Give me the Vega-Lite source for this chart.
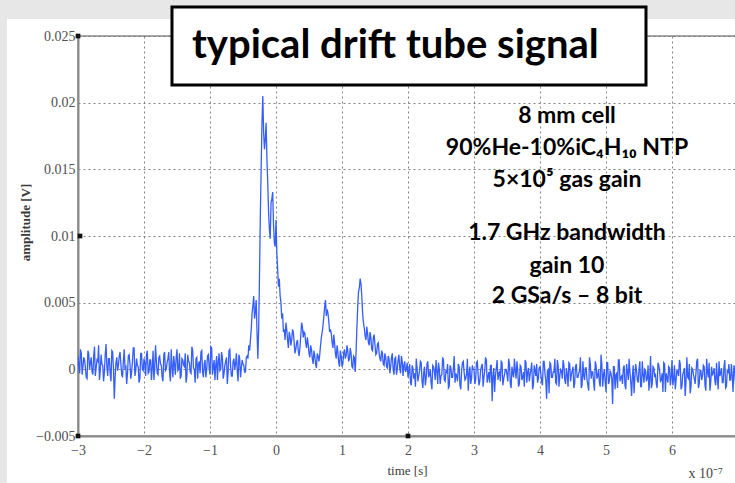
{
  "$schema": "https://vega.github.io/schema/vega-lite/v6.json",
  "width": 660,
  "height": 400,
  "autosize": "none",
  "padding": {"left": 78, "top": 36, "right": 0, "bottom": 47},
  "background": "white",
  "config": {
    "view": {"stroke": "#8a8a8a", "strokeWidth": 1.5},
    "axis": {
      "labelFont": "Liberation Serif",
      "labelFontSize": 14,
      "labelColor": "#505050",
      "titleFont": "Liberation Serif",
      "titleFontSize": 13,
      "titleFontWeight": "bold",
      "titleColor": "#3a3a3a",
      "domainColor": "#8a8a8a",
      "domainWidth": 2,
      "gridColor": "#777777",
      "gridDash": [2, 3],
      "gridWidth": 1,
      "gridOpacity": 0.9,
      "ticks": false,
      "labelFlush": false,
      "labelOverlap": false
    }
  },
  "datasets": {
    "sig": [
      {"t":-3,"a":0.001},{"t":-2.975,"a":-0.0003},{"t":-2.95,"a":0.0012},{"t":-2.925,"a":0.0002},{"t":-2.9,"a":0.0007},
      {"t":-2.875,"a":-0.0006},{"t":-2.85,"a":0.0014},{"t":-2.825,"a":0},{"t":-2.8,"a":0.0009},{"t":-2.775,"a":-0.0004},
      {"t":-2.75,"a":0.0017},{"t":-2.725,"a":0.0001},{"t":-2.7,"a":0.0006},{"t":-2.675,"a":-0.0008},{"t":-2.65,"a":0.0011},
      {"t":-2.625,"a":0.0003},{"t":-2.6,"a":-0.0002},{"t":-2.575,"a":0.0019},{"t":-2.55,"a":-0.0005},{"t":-2.525,"a":0.0008},
      {"t":-2.5,"a":-0.0009},{"t":-2.475,"a":0.0013},{"t":-2.45,"a":-0.0022},{"t":-2.425,"a":0.0005},{"t":-2.4,"a":-0.0001},
      {"t":-2.375,"a":0.001},{"t":-2.35,"a":0.0004},{"t":-2.325,"a":-0.0006},{"t":-2.3,"a":0.0015},{"t":-2.275,"a":0.0002},
      {"t":-2.25,"a":-0.0003},{"t":-2.225,"a":0.0011},{"t":-2.2,"a":-0.0007},{"t":-2.175,"a":0.0006},{"t":-2.15,"a":0.0016},
      {"t":-2.125,"a":-0.0001},{"t":-2.1,"a":0.0003},{"t":-2.075,"a":-0.001},{"t":-2.05,"a":0.0012},{"t":-2.025,"a":0},
      {"t":-2,"a":0.0008},{"t":-1.975,"a":-0.0005},{"t":-1.95,"a":0.0014},{"t":-1.925,"a":-0.0002},{"t":-1.9,"a":0.0007},
      {"t":-1.875,"a":0.0001},{"t":-1.85,"a":-0.0008},{"t":-1.825,"a":0.0018},{"t":-1.8,"a":-0.0003},{"t":-1.775,"a":0.0009},
      {"t":-1.75,"a":0.0004},{"t":-1.725,"a":-0.0006},{"t":-1.7,"a":0.0011},{"t":-1.675,"a":-0.0001},{"t":-1.65,"a":0.0005},
      {"t":-1.625,"a":0.0013},{"t":-1.6,"a":-0.0009},{"t":-1.575,"a":0.0002},{"t":-1.55,"a":0.001},{"t":-1.525,"a":-0.0004},
      {"t":-1.5,"a":0.0015},{"t":-1.475,"a":0},{"t":-1.45,"a":-0.0007},{"t":-1.425,"a":0.0008},{"t":-1.4,"a":0.0003},
      {"t":-1.375,"a":0.0012},{"t":-1.35,"a":-0.0005},{"t":-1.325,"a":0.0006},{"t":-1.3,"a":-0.0002},{"t":-1.275,"a":0.0017},
      {"t":-1.25,"a":0.0001},{"t":-1.225,"a":-0.001},{"t":-1.2,"a":0.0009},{"t":-1.175,"a":0.0004},{"t":-1.15,"a":-0.0003},
      {"t":-1.125,"a":0.0014},{"t":-1.1,"a":-0.0006},{"t":-1.075,"a":0.0007},{"t":-1.05,"a":0},{"t":-1.025,"a":0.0011},
      {"t":-1,"a":-0.0004},{"t":-0.975,"a":0.0016},{"t":-0.95,"a":0.0002},{"t":-0.925,"a":-0.0008},{"t":-0.9,"a":0.001},
      {"t":-0.875,"a":0.0005},{"t":-0.85,"a":-0.0001},{"t":-0.825,"a":0.0013},{"t":-0.8,"a":-0.0007},{"t":-0.775,"a":0.0003},
      {"t":-0.75,"a":0.0009},{"t":-0.725,"a":-0.0002},{"t":-0.7,"a":0.0015},{"t":-0.675,"a":-0.0005},{"t":-0.65,"a":0.0006},
      {"t":-0.625,"a":0},{"t":-0.6,"a":0.0012},{"t":-0.575,"a":-0.0009},{"t":-0.55,"a":0.0008},{"t":-0.525,"a":0.0001},
      {"t":-0.5,"a":0.0004},{"t":-0.475,"a":-0.0002},{"t":-0.45,"a":0.0009},
      {"t":-0.425,"a":0.0008},{"t":-0.4,"a":0.0014},{"t":-0.375,"a":0.003},{"t":-0.35,"a":0.0048},{"t":-0.325,"a":0.0038},
      {"t":-0.3,"a":0.0052},{"t":-0.275,"a":0.0008},{"t":-0.25,"a":0.007},{"t":-0.225,"a":0.015},{"t":-0.2,"a":0.0205},
      {"t":-0.175,"a":0.0165},{"t":-0.15,"a":0.0185},{"t":-0.125,"a":0.014},{"t":-0.1,"a":0.0105},{"t":-0.075,"a":0.0125},
      {"t":-0.05,"a":0.0133},{"t":-0.025,"a":0.0095},{"t":0,"a":0.0112},{"t":0.025,"a":0.0075},{"t":0.05,"a":0.0068},
      {"t":0.075,"a":0.005},{"t":0.1,"a":0.0042},{"t":0.125,"a":0.003},{"t":0.15,"a":0.0035},{"t":0.175,"a":0.0022},
      {"t":0.2,"a":0.0028},{"t":0.225,"a":0.0018},{"t":0.25,"a":0.003},{"t":0.275,"a":0.002},{"t":0.3,"a":0.0015},
      {"t":0.325,"a":0.0022},{"t":0.35,"a":0.001},{"t":0.375,"a":0.0025},{"t":0.4,"a":0.0032},{"t":0.425,"a":0.0028},
      {"t":0.45,"a":0.002},{"t":0.475,"a":0.0024},{"t":0.5,"a":0.0012},{"t":0.525,"a":0.0018},{"t":0.55,"a":0.0008},
      {"t":0.575,"a":0.0014},{"t":0.6,"a":0.0004},{"t":0.625,"a":0.0012},{"t":0.65,"a":0.0006},{"t":0.675,"a":0.0018},
      {"t":0.7,"a":0.0028},{"t":0.725,"a":0.004},{"t":0.75,"a":0.0052},{"t":0.775,"a":0.0045},{"t":0.8,"a":0.0036},
      {"t":0.825,"a":0.003},{"t":0.85,"a":0.002},{"t":0.875,"a":0.0026},{"t":0.9,"a":0.0012},{"t":0.925,"a":0.0018},
      {"t":0.95,"a":0.0005},{"t":0.975,"a":0.0014},{"t":1,"a":0.0002},{"t":1.025,"a":0.0012},{"t":1.05,"a":0.0008},
      {"t":1.075,"a":0.0018},{"t":1.1,"a":0.0006},{"t":1.125,"a":0.0016},{"t":1.15,"a":0.0002},{"t":1.175,"a":0.001},
      {"t":1.2,"a":-0.0002},{"t":1.225,"a":0.003},{"t":1.25,"a":0.0058},{"t":1.275,"a":0.0068},{"t":1.3,"a":0.0055},
      {"t":1.325,"a":0.0035},{"t":1.35,"a":0.0025},{"t":1.375,"a":0.0032},{"t":1.4,"a":0.002},{"t":1.425,"a":0.0028},
      {"t":1.45,"a":0.0015},{"t":1.475,"a":0.0024},{"t":1.5,"a":0.0018},{"t":1.525,"a":0.0012},{"t":1.55,"a":0.002},
      {"t":1.575,"a":0.0008},{"t":1.6,"a":0.0014},{"t":1.625,"a":0.0004},{"t":1.65,"a":0.0012},{"t":1.675,"a":0.0002},
      {"t":1.7,"a":0.001},{"t":1.725,"a":-0.0003},{"t":1.75,"a":0.0009},{"t":1.775,"a":0},{"t":1.8,"a":0.0008},
      {"t":1.825,"a":-0.0004},{"t":1.85,"a":0.0007},{"t":1.875,"a":0.0001},{"t":1.9,"a":0.001},{"t":1.925,"a":-0.0005},
      {"t":1.95,"a":0.0006},{"t":1.975,"a":0},
      {"t":2,"a":-0.0006},{"t":2.025,"a":0.0004},{"t":2.05,"a":-0.0012},{"t":2.075,"a":0.0001},{"t":2.1,"a":-0.0003},
      {"t":2.125,"a":0.0008},{"t":2.15,"a":-0.0009},{"t":2.175,"a":-0.0001},{"t":2.2,"a":0.0005},{"t":2.225,"a":-0.0014},
      {"t":2.25,"a":0.0002},{"t":2.275,"a":-0.0007},{"t":2.3,"a":0.0006},{"t":2.325,"a":-0.0004},{"t":2.35,"a":-0.001},
      {"t":2.375,"a":0.0003},{"t":2.4,"a":-0.0002},{"t":2.425,"a":0.0007},{"t":2.45,"a":-0.0011},{"t":2.475,"a":0},
      {"t":2.5,"a":-0.0005},{"t":2.525,"a":0.0009},{"t":2.55,"a":-0.0008},{"t":2.575,"a":-0.0001},{"t":2.6,"a":0.0004},
      {"t":2.625,"a":-0.0013},{"t":2.65,"a":0.0001},{"t":2.675,"a":-0.0006},{"t":2.7,"a":0.001},{"t":2.725,"a":-0.0003},
      {"t":2.75,"a":-0.0009},{"t":2.775,"a":0.0002},{"t":2.8,"a":-0.0015},{"t":2.825,"a":0.0005},{"t":2.85,"a":-0.0002},
      {"t":2.875,"a":-0.0007},{"t":2.9,"a":0.0008},{"t":2.925,"a":-0.0004},{"t":2.95,"a":-0.0011},{"t":2.975,"a":0.0003},
      {"t":3,"a":0},{"t":3.025,"a":-0.0008},{"t":3.05,"a":0.0006},{"t":3.075,"a":-0.0012},{"t":3.1,"a":-0.0001},
      {"t":3.125,"a":0.0004},{"t":3.15,"a":-0.0006},{"t":3.175,"a":0.0009},{"t":3.2,"a":-0.001},{"t":3.225,"a":-0.0002},
      {"t":3.25,"a":0.0003},{"t":3.275,"a":-0.0024},{"t":3.3,"a":0.0001},{"t":3.325,"a":-0.0005},{"t":3.35,"a":0.0007},
      {"t":3.375,"a":-0.0003},{"t":3.4,"a":-0.0009},{"t":3.425,"a":0.0005},{"t":3.45,"a":-0.0007},{"t":3.475,"a":0},
      {"t":3.5,"a":-0.0004},{"t":3.525,"a":0.0008},{"t":3.55,"a":-0.0011},{"t":3.575,"a":0.0002},{"t":3.6,"a":-0.0006},
      {"t":3.625,"a":-0.0001},{"t":3.65,"a":0.0006},{"t":3.675,"a":-0.0013},{"t":3.7,"a":0.0003},{"t":3.725,"a":-0.0008},
      {"t":3.75,"a":-0.0002},{"t":3.775,"a":0.0007},{"t":3.8,"a":-0.001},{"t":3.825,"a":0.0001},{"t":3.85,"a":-0.0004},
      {"t":3.875,"a":0.0005},{"t":3.9,"a":-0.0012},{"t":3.925,"a":-0.0001},{"t":3.95,"a":0.0004},{"t":3.975,"a":-0.0007},
      {"t":4,"a":0.0002},{"t":4.025,"a":-0.0009},{"t":4.05,"a":0.0006},{"t":4.075,"a":-0.0003},{"t":4.1,"a":-0.0022},
      {"t":4.125,"a":0},{"t":4.15,"a":0.0005},{"t":4.175,"a":-0.0006},{"t":4.2,"a":-0.0002},{"t":4.225,"a":0.0008},
      {"t":4.25,"a":-0.0011},{"t":4.275,"a":0.0003},{"t":4.3,"a":-0.0005},{"t":4.325,"a":-0.0001},{"t":4.35,"a":0.0007},
      {"t":4.375,"a":-0.0008},{"t":4.4,"a":0.0001},{"t":4.425,"a":-0.0013},{"t":4.45,"a":0.0004},{"t":4.475,"a":-0.0004},
      {"t":4.5,"a":0.0002},{"t":4.525,"a":-0.0011},{"t":4.55,"a":0.0004},{"t":4.575,"a":-0.0006},{"t":4.6,"a":-0.0001},
      {"t":4.625,"a":-0.0014},{"t":4.65,"a":0.0006},{"t":4.675,"a":-0.0008},{"t":4.7,"a":0.0001},{"t":4.725,"a":-0.0012},
      {"t":4.75,"a":0.0009},{"t":4.775,"a":-0.0007},{"t":4.8,"a":-0.0002},{"t":4.825,"a":-0.0016},{"t":4.85,"a":0.0003},
      {"t":4.875,"a":-0.0005},{"t":4.9,"a":-0.001},{"t":4.925,"a":0.0011},{"t":4.95,"a":-0.0013},{"t":4.975,"a":0},
      {"t":5,"a":-0.0017},{"t":5.025,"a":0.0005},{"t":5.05,"a":-0.0009},{"t":5.075,"a":-0.0003},{"t":5.1,"a":-0.0026},
      {"t":5.125,"a":0.0002},{"t":5.15,"a":-0.0004},{"t":5.175,"a":-0.0014},{"t":5.2,"a":0.0007},{"t":5.225,"a":-0.0006},
      {"t":5.25,"a":-0.0011},{"t":5.275,"a":0.0003},{"t":5.3,"a":-0.0015},{"t":5.325,"a":-0.0002},{"t":5.35,"a":0.0008},
      {"t":5.375,"a":-0.0009},{"t":5.4,"a":-0.0005},{"t":5.425,"a":-0.0018},{"t":5.45,"a":0.0004},{"t":5.475,"a":-0.0008},
      {"t":5.5,"a":0},{"t":5.525,"a":-0.0013},{"t":5.55,"a":0.0006},{"t":5.575,"a":-0.001},{"t":5.6,"a":-0.0001},
      {"t":5.625,"a":-0.0007},{"t":5.65,"a":-0.0016},{"t":5.675,"a":0.001},{"t":5.7,"a":-0.0011},{"t":5.725,"a":0.0001},
      {"t":5.75,"a":-0.0004},{"t":5.775,"a":-0.0014},{"t":5.8,"a":0.0003},{"t":5.825,"a":-0.0009},{"t":5.85,"a":-0.0003},
      {"t":5.875,"a":0.0005},{"t":5.9,"a":-0.0017},{"t":5.925,"a":-0.0006},{"t":5.95,"a":0.0002},{"t":5.975,"a":-0.0012},
      {"t":6,"a":0.0007},{"t":6.025,"a":-0.0008},{"t":6.05,"a":-0.0015},{"t":6.075,"a":0},{"t":6.1,"a":-0.0005},
      {"t":6.125,"a":0.0004},{"t":6.15,"a":-0.0013},{"t":6.175,"a":-0.0002},{"t":6.2,"a":-0.002},{"t":6.225,"a":0.0009},
      {"t":6.25,"a":-0.0007},{"t":6.275,"a":-0.0018},{"t":6.3,"a":0.0001},{"t":6.325,"a":-0.0004},{"t":6.35,"a":-0.0011},
      {"t":6.375,"a":0.0006},{"t":6.4,"a":-0.0014},{"t":6.425,"a":-0.0001},{"t":6.45,"a":-0.0008},{"t":6.475,"a":0.0003},
      {"t":6.5,"a":-0.0012},{"t":6.525,"a":0.0008},{"t":6.55,"a":-0.0006},{"t":6.575,"a":-0.0016},{"t":6.6,"a":0.0002},
      {"t":6.625,"a":-0.0003},{"t":6.65,"a":-0.0009},{"t":6.675,"a":0.0005},{"t":6.7,"a":-0.0015},{"t":6.725,"a":-0.0005},
      {"t":6.75,"a":0.0001},{"t":6.775,"a":-0.001},{"t":6.8,"a":0.0007},{"t":6.825,"a":-0.0013},{"t":6.85,"a":-0.0002},
      {"t":6.875,"a":-0.0008},{"t":6.9,"a":0.0004},{"t":6.925,"a":-0.0017},{"t":6.95,"a":0},{"t":6.975,"a":-0.0007},
      {"t":7,"a":-0.0003},

      {"t":-2.9875,"a":0.0003},{"t":-2.9625,"a":0.0015},{"t":-2.9375,"a":-0.0004},{"t":-2.9125,"a":0.0009},{"t":-2.8875,"a":0.0001},
      {"t":-2.8625,"a":-0.0007},{"t":-2.8375,"a":0.0012},{"t":-2.8125,"a":0.0005},{"t":-2.7875,"a":-0.0002},{"t":-2.7625,"a":0.001},
      {"t":-2.7375,"a":-0.0005},{"t":-2.7125,"a":0.0007},{"t":-2.6875,"a":0.0018},{"t":-2.6625,"a":-0.0001},{"t":-2.6375,"a":0.0004},
      {"t":-2.6125,"a":-0.0009},{"t":-2.5875,"a":0.0011},{"t":-2.5625,"a":0.0002},{"t":-2.5375,"a":0.0008},{"t":-2.5125,"a":-0.0003},
      {"t":-2.4875,"a":0.0014},{"t":-2.4625,"a":0},{"t":-2.4375,"a":-0.0006},{"t":-2.4125,"a":0.0009},{"t":-2.3875,"a":0.0003},
      {"t":-2.3625,"a":0.0013},{"t":-2.3375,"a":-0.0004},{"t":-2.3125,"a":0.0006},{"t":-2.2875,"a":0.0001},{"t":-2.2625,"a":-0.0011},
      {"t":-2.2375,"a":0.001},{"t":-2.2125,"a":0.0004},{"t":-2.1875,"a":-0.0002},{"t":-2.1625,"a":0.0016},{"t":-2.1375,"a":-0.0005},
      {"t":-2.1125,"a":0.0008},{"t":-2.0875,"a":0.0002},{"t":-2.0625,"a":-0.0007},{"t":-2.0375,"a":0.0012},{"t":-2.0125,"a":-0.0001},
      {"t":-1.9875,"a":0.0005},{"t":-1.9625,"a":0.0011},{"t":-1.9375,"a":-0.0003},{"t":-1.9125,"a":0.0007},{"t":-1.8875,"a":-0.0008},
      {"t":-1.8625,"a":0.0014},{"t":-1.8375,"a":0.0001},{"t":-1.8125,"a":0.0006},{"t":-1.7875,"a":-0.0004},{"t":-1.7625,"a":0.001},
      {"t":-1.7375,"a":0.0003},{"t":-1.7125,"a":-0.0009},{"t":-1.6875,"a":0.0013},{"t":-1.6625,"a":0},{"t":-1.6375,"a":0.0008},
      {"t":-1.6125,"a":-0.0002},{"t":-1.5875,"a":0.0015},{"t":-1.5625,"a":-0.0006},{"t":-1.5375,"a":0.0004},{"t":-1.5125,"a":0.0009},
      {"t":-1.4875,"a":-0.0001},{"t":-1.4625,"a":0.0012},{"t":-1.4375,"a":-0.0005},{"t":-1.4125,"a":0.0007},{"t":-1.3875,"a":0.0002},
      {"t":-1.3625,"a":-0.001},{"t":-1.3375,"a":0.0011},{"t":-1.3125,"a":0.0005},{"t":-1.2875,"a":-0.0003},{"t":-1.2625,"a":0.0014},
      {"t":-1.2375,"a":0},{"t":-1.2125,"a":0.0008},{"t":-1.1875,"a":-0.0007},{"t":-1.1625,"a":0.0006},{"t":-1.1375,"a":0.0013},
      {"t":-1.1125,"a":-0.0002},{"t":-1.0875,"a":0.0004},{"t":-1.0625,"a":-0.0006},{"t":-1.0375,"a":0.001},{"t":-1.0125,"a":0.0001},
      {"t":-0.9875,"a":0.0017},{"t":-0.9625,"a":-0.0004},{"t":-0.9375,"a":0.0007},{"t":-0.9125,"a":0.0003},{"t":-0.8875,"a":-0.0008},
      {"t":-0.8625,"a":0.0012},{"t":-0.8375,"a":0},{"t":-0.8125,"a":0.0009},{"t":-0.7875,"a":-0.0003},{"t":-0.7625,"a":0.0006},
      {"t":-0.7375,"a":-0.0011},{"t":-0.7125,"a":0.0014},{"t":-0.6875,"a":0.0002},{"t":-0.6625,"a":-0.0005},{"t":-0.6375,"a":0.0008},
      {"t":-0.6125,"a":0.0004},{"t":-0.5875,"a":-0.0001},{"t":-0.5625,"a":0.0011},{"t":-0.5375,"a":-0.0006},{"t":-0.5125,"a":0.0007},
      {"t":-0.4875,"a":0.0003},{"t":-0.4625,"a":-0.0002},{"t":-0.4375,"a":0.001},
      {"t":-0.4125,"a":0.0018},{"t":-0.3875,"a":0.0022},{"t":-0.3625,"a":0.0042},{"t":-0.3375,"a":0.0055},{"t":-0.3125,"a":0.0043},
      {"t":-0.2875,"a":0.0028},{"t":-0.2625,"a":0.003},{"t":-0.2375,"a":0.0115},{"t":-0.2125,"a":0.0185},{"t":-0.1875,"a":0.0178},
      {"t":-0.1625,"a":0.0172},{"t":-0.1375,"a":0.0158},{"t":-0.1125,"a":0.0118},{"t":-0.0875,"a":0.0098},{"t":-0.0625,"a":0.0128},
      {"t":-0.0375,"a":0.0108},{"t":-0.0125,"a":0.0092},{"t":0.0125,"a":0.0088},{"t":0.0375,"a":0.0062},{"t":0.0625,"a":0.0055},
      {"t":0.0875,"a":0.0038},{"t":0.1125,"a":0.0028},{"t":0.1375,"a":0.0022},{"t":0.1625,"a":0.003},{"t":0.1875,"a":0.0016},
      {"t":0.2125,"a":0.0025},{"t":0.2375,"a":0.0022},{"t":0.2625,"a":0.0028},{"t":0.2875,"a":0.0012},{"t":0.3125,"a":0.002},
      {"t":0.3375,"a":0.0014},{"t":0.3625,"a":0.0016},{"t":0.3875,"a":0.0035},{"t":0.4125,"a":0.0024},{"t":0.4375,"a":0.0027},
      {"t":0.4625,"a":0.0016},{"t":0.4875,"a":0.0019},{"t":0.5125,"a":0.0009},{"t":0.5375,"a":0.0015},{"t":0.5625,"a":0.0004},
      {"t":0.5875,"a":0.001},{"t":0.6125,"a":0.0001},{"t":0.6375,"a":0.001},{"t":0.6625,"a":0.0011},{"t":0.6875,"a":0.0024},
      {"t":0.7125,"a":0.0033},{"t":0.7375,"a":0.0047},{"t":0.7625,"a":0.004},{"t":0.7875,"a":0.0042},{"t":0.8125,"a":0.0028},
      {"t":0.8375,"a":0.0027},{"t":0.8625,"a":0.0016},{"t":0.8875,"a":0.002},{"t":0.9125,"a":0.0008},{"t":0.9375,"a":0.0013},
      {"t":0.9625,"a":0.0002},{"t":0.9875,"a":0.001},{"t":1.0125,"a":0.0004},{"t":1.0375,"a":0.0015},{"t":1.0625,"a":0.001},
      {"t":1.0875,"a":0.0014},{"t":1.1125,"a":0.0008},{"t":1.1375,"a":0.0012},{"t":1.1625,"a":0.0001},{"t":1.1875,"a":0.0009},
      {"t":1.2125,"a":0.0012},{"t":1.2375,"a":0.0046},{"t":1.2625,"a":0.0061},{"t":1.2875,"a":0.0064},{"t":1.3125,"a":0.0042},
      {"t":1.3375,"a":0.0031},{"t":1.3625,"a":0.0022},{"t":1.3875,"a":0.0027},{"t":1.4125,"a":0.0018},{"t":1.4375,"a":0.0024},
      {"t":1.4625,"a":0.0014},{"t":1.4875,"a":0.0026},{"t":1.5125,"a":0.0011},{"t":1.5375,"a":0.0019},{"t":1.5625,"a":0.0012},
      {"t":1.5875,"a":0.0006},{"t":1.6125,"a":0.0012},{"t":1.6375,"a":0.0003},{"t":1.6625,"a":0.0009},{"t":1.6875,"a":0.0001},
      {"t":1.7125,"a":0.0008},{"t":1.7375,"a":0.0002},{"t":1.7625,"a":0.0012},{"t":1.7875,"a":-0.0004},{"t":1.8125,"a":0.0009},
      {"t":1.8375,"a":0},{"t":1.8625,"a":0.0011},{"t":1.8875,"a":-0.0003},{"t":1.9125,"a":0.0006},{"t":1.9375,"a":0.0003},
      {"t":1.9625,"a":-0.0002},{"t":1.9875,"a":0.0005},
      {"t":2.0125,"a":-0.0002},{"t":2.0375,"a":-0.001},{"t":2.0625,"a":0.0003},{"t":2.0875,"a":-0.0007},{"t":2.1125,"a":-0.0013},
      {"t":2.1375,"a":0.0001},{"t":2.1625,"a":-0.0005},{"t":2.1875,"a":0.0006},{"t":2.2125,"a":-0.0009},{"t":2.2375,"a":-0.0003},
      {"t":2.2625,"a":-0.0012},{"t":2.2875,"a":0.0004},{"t":2.3125,"a":-0.0006},{"t":2.3375,"a":0},{"t":2.3625,"a":-0.0015},
      {"t":2.3875,"a":0.0002},{"t":2.4125,"a":-0.0008},{"t":2.4375,"a":-0.0001},{"t":2.4625,"a":0.0005},{"t":2.4875,"a":-0.0011},
      {"t":2.5125,"a":-0.0004},{"t":2.5375,"a":0.0007},{"t":2.5625,"a":-0.0009},{"t":2.5875,"a":-0.0002},{"t":2.6125,"a":-0.0014},
      {"t":2.6375,"a":0.0003},{"t":2.6625,"a":-0.0006},{"t":2.6875,"a":0.0001},{"t":2.7125,"a":-0.001},{"t":2.7375,"a":-0.0005},
      {"t":2.7625,"a":0.0004},{"t":2.7875,"a":-0.0012},{"t":2.8125,"a":-0.0001},{"t":2.8375,"a":0.0006},{"t":2.8625,"a":-0.0008},
      {"t":2.8875,"a":-0.0003},{"t":2.9125,"a":-0.0016},{"t":2.9375,"a":0.0002},{"t":2.9625,"a":-0.0007},{"t":2.9875,"a":0},
      {"t":3.0125,"a":-0.0011},{"t":3.0375,"a":0.0005},{"t":3.0625,"a":-0.0004},{"t":3.0875,"a":-0.0009},{"t":3.1125,"a":0.0002},
      {"t":3.1375,"a":-0.0013},{"t":3.1625,"a":-0.0001},{"t":3.1875,"a":0.0007},{"t":3.2125,"a":-0.0006},{"t":3.2375,"a":-0.001},
      {"t":3.2625,"a":0.0003},{"t":3.2875,"a":-0.0005},{"t":3.3125,"a":-0.0017},{"t":3.3375,"a":0.0001},{"t":3.3625,"a":-0.0008},
      {"t":3.3875,"a":-0.0002},{"t":3.4125,"a":0.0006},{"t":3.4375,"a":-0.0012},{"t":3.4625,"a":-0.0004},{"t":3.4875,"a":0},
      {"t":3.5125,"a":-0.0009},{"t":3.5375,"a":0.0004},{"t":3.5625,"a":-0.0014},{"t":3.5875,"a":-0.0003},{"t":3.6125,"a":0.0008},
      {"t":3.6375,"a":-0.0007},{"t":3.6625,"a":-0.0001},{"t":3.6875,"a":-0.0011},{"t":3.7125,"a":0.0002},{"t":3.7375,"a":-0.0006},
      {"t":3.7625,"a":-0.0013},{"t":3.7875,"a":0.0005},{"t":3.8125,"a":-0.0002},{"t":3.8375,"a":-0.0009},{"t":3.8625,"a":0},
      {"t":3.8875,"a":-0.0015},{"t":3.9125,"a":0.0003},{"t":3.9375,"a":-0.0005},{"t":3.9625,"a":-0.001},{"t":3.9875,"a":0.0001},
      {"t":4.0125,"a":-0.0003},{"t":4.0375,"a":-0.0012},{"t":4.0625,"a":0.0006},{"t":4.0875,"a":-0.0008},{"t":4.1125,"a":-0.0001},
      {"t":4.1375,"a":-0.0018},{"t":4.1625,"a":0.0004},{"t":4.1875,"a":-0.0006},{"t":4.2125,"a":-0.0002},{"t":4.2375,"a":-0.001},
      {"t":4.2625,"a":0.0007},{"t":4.2875,"a":-0.0013},{"t":4.3125,"a":0},{"t":4.3375,"a":-0.0007},{"t":4.3625,"a":0.0003},
      {"t":4.3875,"a":-0.0011},{"t":4.4125,"a":-0.0004},{"t":4.4375,"a":0.0005},{"t":4.4625,"a":-0.0009},{"t":4.4875,"a":-0.0001},
      {"t":4.5125,"a":-0.0014},{"t":4.5375,"a":0.0002},{"t":4.5625,"a":-0.0006},{"t":4.5875,"a":-0.0003},{"t":4.6125,"a":0.0009},
      {"t":4.6375,"a":-0.0012},{"t":4.6625,"a":-0.0005},{"t":4.6875,"a":0.0001},{"t":4.7125,"a":-0.0008},{"t":4.7375,"a":-0.0016},
      {"t":4.7625,"a":0.0004},{"t":4.7875,"a":-0.0002},{"t":4.8125,"a":-0.001},{"t":4.8375,"a":0.0006},{"t":4.8625,"a":-0.0007},
      {"t":4.8875,"a":0},{"t":4.9125,"a":-0.0013},{"t":4.9375,"a":0.0003},{"t":4.9625,"a":-0.0004},{"t":4.9875,"a":-0.0009},
      {"t":5.0125,"a":0.0005},{"t":5.0375,"a":-0.0011},{"t":5.0625,"a":-0.0001},{"t":5.0875,"a":-0.0007},{"t":5.1125,"a":0.0002},
      {"t":5.1375,"a":-0.0015},{"t":5.1625,"a":-0.0003},{"t":5.1875,"a":0.0007},{"t":5.2125,"a":-0.0009},{"t":5.2375,"a":-0.0005},
      {"t":5.2625,"a":0.0001},{"t":5.2875,"a":-0.0012},{"t":5.3125,"a":0.0004},{"t":5.3375,"a":-0.0008},{"t":5.3625,"a":-0.0002},
      {"t":5.3875,"a":-0.002},{"t":5.4125,"a":0.0003},{"t":5.4375,"a":-0.0006},{"t":5.4625,"a":-0.0001},{"t":5.4875,"a":-0.001},
      {"t":5.5125,"a":0.0006},{"t":5.5375,"a":-0.0013},{"t":5.5625,"a":-0.0004},{"t":5.5875,"a":0},{"t":5.6125,"a":-0.0009},
      {"t":5.6375,"a":0.0003},{"t":5.6625,"a":-0.0007},{"t":5.6875,"a":-0.0014},{"t":5.7125,"a":0.0002},{"t":5.7375,"a":-0.0005},
      {"t":5.7625,"a":-0.0011},{"t":5.7875,"a":0.0005},{"t":5.8125,"a":-0.0001},{"t":5.8375,"a":-0.0008},{"t":5.8625,"a":-0.0017},
      {"t":5.8875,"a":0.0004},{"t":5.9125,"a":-0.0003},{"t":5.9375,"a":-0.001},{"t":5.9625,"a":0.0001},{"t":5.9875,"a":-0.0006},
      {"t":6.0125,"a":-0.0012},{"t":6.0375,"a":0.0003},{"t":6.0625,"a":-0.0008},{"t":6.0875,"a":-0.0002},{"t":6.1125,"a":0.0007},
      {"t":6.1375,"a":-0.0015},{"t":6.1625,"a":-0.0004},{"t":6.1875,"a":0.0001},{"t":6.2125,"a":-0.0009},{"t":6.2375,"a":-0.0006},
      {"t":6.2625,"a":0.0004},{"t":6.2875,"a":-0.0013},{"t":6.3125,"a":0},{"t":6.3375,"a":-0.0007},{"t":6.3625,"a":-0.0003},
      {"t":6.3875,"a":0.0008},{"t":6.4125,"a":-0.0011},{"t":6.4375,"a":-0.0001},{"t":6.4625,"a":-0.0005},{"t":6.4875,"a":0.0002},
      {"t":6.5125,"a":-0.0016},{"t":6.5375,"a":-0.0002},{"t":6.5625,"a":0.0005},{"t":6.5875,"a":-0.0009},{"t":6.6125,"a":-0.0004},
      {"t":6.6375,"a":0.0001},{"t":6.6625,"a":-0.0012},{"t":6.6875,"a":-0.0007},{"t":6.7125,"a":0.0006},{"t":6.7375,"a":-0.0003},
      {"t":6.7625,"a":-0.001},{"t":6.7875,"a":0.0002},{"t":6.8125,"a":-0.0014},{"t":6.8375,"a":-0.0001},{"t":6.8625,"a":0.0004},
      {"t":6.8875,"a":-0.0008},{"t":6.9125,"a":-0.0005},{"t":6.9375,"a":0.0003},{"t":6.9625,"a":-0.0011},{"t":6.9875,"a":-0.0002}
    ],
    "marks": [
      {"t":-3,"a":0.025},{"t":-3,"a":-0.005},{"t":2,"a":-0.005},{"t":-2.97,"a":0.01}
    ]
  },
  "layer": [
    {
      "data": {"name": "sig"},
      "mark": {"type": "line", "color": "#2a55ff", "strokeWidth": 1.3, "opacity": 0.95, "clip": true},
      "encoding": {
        "x": {
          "field": "t", "type": "quantitative",
          "scale": {"domain": [-3, 7], "nice": false, "zero": false},
          "axis": {
            "values": [-3, -2, -1, 0, 1, 2, 3, 4, 5, 6],
            "format": "d",
            "title": "time [s]",
            "titleX": 329,
            "titleY": 34,
            "titleBaseline": "middle",
            "titleFontWeight": "normal",
            "labelPadding": 7
          }
        },
        "y": {
          "field": "a", "type": "quantitative",
          "scale": {"domain": [-0.005, 0.025], "nice": false, "zero": false},
          "axis": {
            "values": [-0.005, 0, 0.005, 0.01, 0.015, 0.02, 0.025],
            "format": "~g",
            "title": "amplitude [V]",
            "titleX": -46,
            "titleY": 186,
            "titleAlign": "center",
            "labelPadding": 3
          }
        }
      }
    },
    {
      "data": {"name": "marks"},
      "mark": {"type": "point", "shape": "square", "filled": true, "color": "#111111", "size": 22, "opacity": 1},
      "encoding": {
        "x": {"field": "t", "type": "quantitative"},
        "y": {"field": "a", "type": "quantitative"}
      }
    },
    {
      "data": {"values": [{}]},
      "mark": {"type": "rect", "color": "#e7e7e7"},
      "encoding": {
        "x": {"datum": -4.5}, "x2": {"datum": 9},
        "y": {"datum": 0.026275}, "y2": {"datum": 0.03}
      }
    },
    {
      "data": {"values": [{}]},
      "mark": {"type": "rect", "color": "#e7e7e7"},
      "encoding": {
        "x": {"datum": -4.5}, "x2": {"datum": -4.076},
        "y": {"datum": -0.012}, "y2": {"datum": 0.03}
      }
    },
    {
      "data": {"values": [{}]},
      "mark": {"type": "rect", "fill": "white", "stroke": "black", "strokeWidth": 3},
      "encoding": {
        "x": {"datum": -1.576}, "x2": {"datum": 5.606},
        "y": {"datum": 0.027175}, "y2": {"datum": 0.021325}
      }
    },
    {
      "data": {"values": [{}]},
      "mark": {"type": "text", "text": "typical drift tube signal", "font": "Lato", "fontWeight": "bold", "fontSize": 40, "align": "left", "baseline": "alphabetic", "color": "black"},
      "encoding": {"x": {"datum": -1.273}, "y": {"datum": 0.02335}}
    },
    {
      "data": {"values": [{}]},
      "mark": {"type": "text", "text": "8 mm cell", "font": "Lato", "fontWeight": "bold", "fontSize": 23, "align": "center", "baseline": "alphabetic", "color": "black"},
      "encoding": {"x": {"datum": 4.409}, "y": {"datum": 0.018475}}
    },
    {
      "data": {"values": [{}]},
      "mark": {"type": "text", "text": "90%He-10%iC₄H₁₀ NTP", "font": "Lato", "fontWeight": "bold", "fontSize": 23, "align": "center", "baseline": "alphabetic", "color": "black"},
      "encoding": {"x": {"datum": 4.409}, "y": {"datum": 0.016075}}
    },
    {
      "data": {"values": [{}]},
      "mark": {"type": "text", "text": "5×10⁵ gas gain", "font": "Lato", "fontWeight": "bold", "fontSize": 23, "align": "center", "baseline": "alphabetic", "color": "black"},
      "encoding": {"x": {"datum": 4.409}, "y": {"datum": 0.013675}}
    },
    {
      "data": {"values": [{}]},
      "mark": {"type": "text", "text": "1.7 GHz bandwidth", "font": "Lato", "fontWeight": "bold", "fontSize": 23, "align": "center", "baseline": "alphabetic", "color": "black"},
      "encoding": {"x": {"datum": 4.409}, "y": {"datum": 0.0097}}
    },
    {
      "data": {"values": [{}]},
      "mark": {"type": "text", "text": "gain 10", "font": "Lato", "fontWeight": "bold", "fontSize": 23, "align": "center", "baseline": "alphabetic", "color": "black"},
      "encoding": {"x": {"datum": 4.409}, "y": {"datum": 0.007225}}
    },
    {
      "data": {"values": [{}]},
      "mark": {"type": "text", "text": "2 GSa/s – 8 bit", "font": "Lato", "fontWeight": "bold", "fontSize": 23, "align": "center", "baseline": "alphabetic", "color": "black"},
      "encoding": {"x": {"datum": 4.409}, "y": {"datum": 0.004975}}
    },
    {
      "data": {"values": [{}]},
      "mark": {"type": "text", "text": "x 10⁻⁷", "font": "Liberation Serif", "fontSize": 14, "align": "left", "baseline": "alphabetic", "color": "#444444"},
      "encoding": {"x": {"datum": 6.25}, "y": {"datum": -0.00812}}
    }
  ]
}
